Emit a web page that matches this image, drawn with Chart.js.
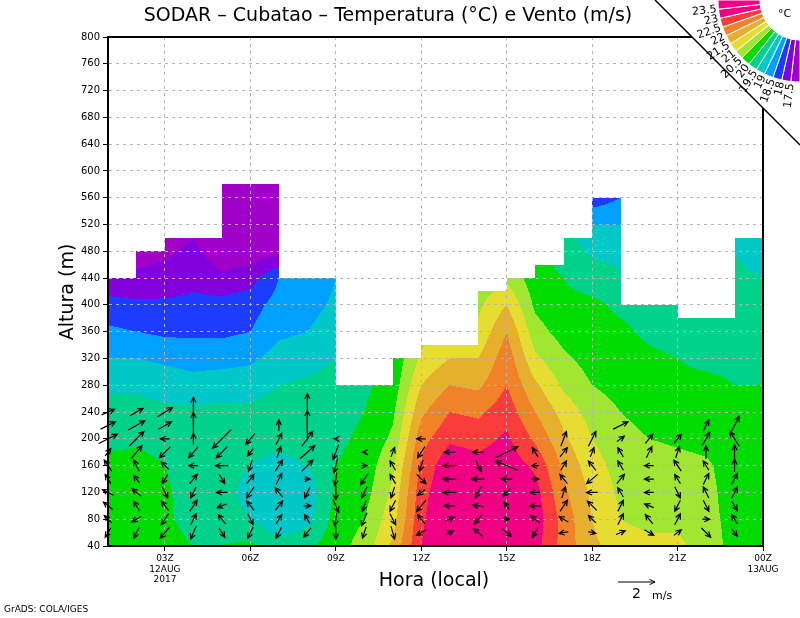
<!DOCTYPE html>
<html><head><meta charset="utf-8">
<script src="https://cdn.jsdelivr.net/npm/chart.js@4/dist/chart.umd.min.js"></script>
<style>html,body{margin:0;padding:0;background:#fff}#w{width:800px;height:618px}</style>
</head><body><div id="w"><canvas id="c" width="800" height="618"></canvas></div>
<script>
// hours (node positions) and heights (m)
const hours = [1,2,3,4,5,6,7,8,9,10,11,12,13,14,15,16,17,18,19,20,21,22,23,24];
const levels = [40,80,120,160,200,240,280,320,360,400,440,480,520,560,600];
// temperature (°C) per hour node, from bottom level upward
const temp = [
 [20.3,20.3,20.2,20.1,19.9,19.7,19.4,19.0,18.6,18.2,17.6,17.2,17.0,17.0,17.0],
 [20.4,20.3,20.3,20.2,19.9,19.7,19.4,19.0,18.5,18.1,17.6,17.3,17.2,17.2,17.2],
 [20.2,20.1,20.1,20.0,19.8,19.6,19.3,18.9,18.4,18.1,17.7,17.4,17.2,17.2,17.2],
 [20.0,19.8,19.7,19.7,19.7,19.6,19.2,18.8,18.4,18.1,17.9,17.6,17.4,17.3,17.3],
 [20.0,19.8,19.7,19.7,19.7,19.6,19.3,18.8,18.4,18.2,17.6,17.2,17.2,17.2,17.2],
 [20.1,19.5,19.3,19.5,19.7,19.6,19.3,18.9,18.5,18.3,17.8,17.2,17.2,17.2,17.2],
 [19.7,19.1,19.1,19.3,19.7,19.7,19.5,19.2,18.9,18.7,18.5,17.3,17.2,17.2,17.2],
 [19.9,19.3,19.2,19.5,19.8,19.8,19.6,19.3,19.0,18.8,18.6,18.4,18.4,18.4,18.4],
 [20.3,20.2,20.1,20.0,19.9,19.8,19.7,19.5,19.3,19.1,19.0,19.0,19.0,19.0,19.0],
 [20.7,20.5,20.3,20.2,20.1,20.0,19.9,19.8,19.7,19.6,19.5,19.5,19.5,19.5,19.5],
 [21.6,21.3,21.1,20.9,20.6,20.4,20.2,20.1,20.0,20.0,20.0,20.0,20.0,20.0,20.0],
 [23.0,22.9,22.8,22.6,22.3,21.9,21.5,21.1,20.8,20.6,20.5,20.5,20.5,20.5,20.5],
 [23.6,23.6,23.5,23.4,22.9,22.5,22.0,21.5,21.1,20.9,20.7,20.7,20.7,20.7,20.7],
 [23.5,23.4,23.3,23.2,22.8,22.4,21.9,21.5,21.1,20.9,20.6,20.6,20.6,20.6,20.6],
 [23.6,23.5,23.4,23.3,23.1,22.8,22.5,22.3,22.0,21.5,20.9,20.6,20.6,20.6,20.6],
 [23.2,23.3,23.2,22.9,22.4,22.0,21.6,21.1,20.7,20.4,20.2,20.1,20.1,20.1,20.1],
 [22.3,22.3,22.1,21.9,21.6,21.3,20.9,20.6,20.3,20.1,20.0,19.8,19.7,19.7,19.7],
 [21.6,21.5,21.4,21.2,21.0,20.8,20.5,20.3,20.2,20.1,19.8,19.4,19.0,18.2,18.2],
 [21.3,21.0,20.9,20.8,20.7,20.5,20.3,20.2,20.1,19.9,19.6,19.3,19.0,18.5,18.5],
 [21.2,20.8,20.8,20.8,20.5,20.3,20.2,20.1,19.9,19.8,19.7,19.6,19.6,19.6,19.6],
 [21.1,20.9,20.8,20.7,20.4,20.2,20.1,20.0,19.8,19.6,19.6,19.6,19.6,19.6,19.6],
 [20.8,20.7,20.7,20.6,20.3,20.2,20.1,19.9,19.7,19.6,19.6,19.6,19.6,19.6,19.6],
 [20.3,20.3,20.2,20.2,20.1,20.1,20.0,19.9,19.8,19.7,19.6,19.5,19.5,19.5,19.5],
 [20.3,20.3,20.2,20.2,20.1,20.1,20.0,19.9,19.8,19.7,19.5,19.3,19.3,19.3,19.3]
];
// top of valid data for each hour interval [h, h+1]
const dataTop = [440,480,500,500,580,580,440,440,280,280,320,340,340,420,440,460,500,560,400,400,380,380,500];
// contour levels and colours
const tLevels = [17.5,18,18.5,19,19.5,20,20.5,21,21.5,22,22.5,23,23.5];
const tColors = ['#a000c8','#8200dc','#1e3cff','#00a0ff','#00c8c8','#00d28c','#00dc00','#a0e632','#e6dc32','#e6af2d','#f08228','#fa3c3c','#f00082','#f00082'];
// wind vectors: rows at these heights, columns at hours 1..23
const windHours = [1,2,3,4,5,6,7,8,9,10,11,12,13,14,15,16,17,18,19,20,21,22,23];
const windLevels = [60,80,100,120,140,160,180,200,220,240];
const windU = [
 [-0.3,-0.3,-0.5,-0.3,0.3,-0.3,-0.3,-0.4,0.0,-0.2,0.2,-0.5,0.4,-0.5,0.5,-0.3,-0.5,0.4,0.5,0.5,0.4,0.5,0.3],
 [-0.4,-0.5,-0.4,0.3,-0.4,0.3,0.3,-0.3,-0.1,-0.3,0.3,-0.4,0.5,-0.4,0.3,-0.5,-0.5,-0.4,0.3,-0.4,0.3,0.4,-0.3],
 [-0.5,-0.3,-0.4,0.4,-0.5,-0.4,0.4,0.4,0.3,-0.2,-0.3,-0.5,-0.6,-0.6,-0.3,-0.6,0.4,-0.5,0.3,-0.5,-0.3,0.3,0.3],
 [-0.6,-0.5,0.3,-0.3,-0.6,-0.4,-0.4,-0.3,0.0,-0.3,-0.2,-0.4,-0.7,-0.3,-0.4,-0.5,0.2,-0.6,-0.3,-0.5,0.3,-0.3,0.3],
 [-0.3,-0.3,-0.3,0.4,0.3,0.4,0.3,0.3,-0.1,-0.4,-0.3,0.5,-0.7,-0.7,-0.6,0.4,-0.4,-0.6,0.4,-0.5,-0.3,0.3,0.3],
 [-0.4,-0.3,-0.4,-0.5,-0.7,-0.2,0.4,0.6,-0.2,0.3,-0.3,-0.2,-0.7,0.3,-1.2,-0.4,0.3,-0.4,-0.3,-0.5,-0.4,-0.3,0.0],
 [0.3,0.6,-0.6,-0.5,-0.6,-0.3,0.2,0.8,-0.3,-0.2,0.2,-0.4,-0.6,-0.6,1.2,-0.3,0.4,0.2,-0.3,0.3,0.2,0.0,0.0],
 [1.0,0.8,-0.5,0.0,-1.0,-0.5,0.3,0.6,-0.2,0.0,0.0,-0.5,0.0,0.0,0.0,0.0,0.3,0.4,0.4,0.4,0.4,0.4,-0.5],
 [0.8,0.9,0.7,0.0,0.0,0.0,0.0,0.0,0.0,0.0,0.0,0.0,0.0,0.0,0.0,0.0,0.0,0.0,0.8,0.0,0.0,0.3,0.5],
 [0.7,0.7,0.8,0.0,0.0,0.0,0.0,0.0,0.0,0.0,0.0,0.0,0.0,0.0,0.0,0.0,0.0,0.0,0.0,0.0,0.0,0.0,0.0]
];
const windV = [
 [-0.5,-0.6,-0.6,-0.7,-0.5,-0.6,-0.6,-0.5,-0.7,-0.6,-0.7,-0.3,0.2,0.4,-0.4,-0.5,-0.1,-0.1,0.2,-0.3,0.3,-0.5,-0.4],
 [0.4,-0.3,-0.6,0.6,0.5,-0.6,0.5,0.5,-0.7,-0.7,-0.6,0.5,0.2,-0.5,0.0,0.4,0.3,0.4,0.6,0.5,0.6,0.0,0.5],
 [0.4,0.5,0.5,0.6,-0.2,0.5,0.5,0.0,-0.7,-0.6,-0.6,-0.6,0.0,0.1,0.4,0.0,0.6,0.5,0.6,0.2,-0.6,-0.6,-0.5],
 [0.3,0.4,-0.6,-0.6,0.0,-0.6,0.5,-0.6,-0.8,-0.6,-0.6,-0.3,0.0,-0.6,-0.4,0.0,0.6,0.0,0.5,0.0,-0.6,0.6,0.6],
 [0.5,0.4,-0.5,0.5,-0.5,0.5,0.6,0.0,-0.7,-0.6,0.5,-0.5,0.0,0.0,0.0,0.0,0.5,-0.5,0.5,0.0,0.5,0.6,0.6],
 [0.6,0.6,0.4,0.0,0.0,-0.6,0.6,0.6,-0.8,0.0,0.5,-0.6,0.0,-0.6,0.5,0.0,0.5,0.5,0.5,0.0,0.6,0.5,0.7],
 [0.4,0.7,-0.6,-0.6,-0.6,-0.4,0.6,0.7,-0.8,0.0,0.5,-0.6,0.0,0.0,0.6,0.5,0.5,0.5,0.5,0.6,0.6,0.7,0.8],
 [0.5,0.8,0.0,0.6,-1.0,-0.6,0.6,0.8,0.0,0.0,0.0,0.0,0.0,0.0,0.0,0.0,0.8,0.8,0.3,0.5,0.5,0.7,0.8],
 [0.4,0.5,0.4,1.4,0.0,0.0,0.6,1.6,0.0,0.0,0.0,0.0,0.0,0.0,0.0,0.0,0.0,0.0,0.4,0.0,0.0,0.6,1.0],
 [0.3,0.4,0.5,1.6,0.0,0.0,0.0,2.0,0.0,0.0,0.0,0.0,0.0,0.0,0.0,0.0,0.0,0.0,0.0,0.0,0.0,0.0,0.0]
];
const xTickValues = [3,6,9,12,15,18,21,24];
const xTickLabels = [['03Z','12AUG','2017'],'06Z','09Z','12Z','15Z','18Z','21Z',['00Z','13AUG']];
const titleText = 'SODAR – Cubatao – Temperatura (°C) e Vento (m/s)';
const FONT = 'DejaVu Sans';

function tempAt(h, z){
  let ci = Math.min(Math.max(h - hours[0], 0), hours.length - 1.0001);
  let li = Math.min(Math.max((z - levels[0]) / 40, 0), levels.length - 1.0001);
  const c0 = Math.floor(ci), l0 = Math.floor(li), fc = ci - c0, fl = li - l0;
  const a = temp[c0][l0], b = temp[c0+1][l0], c = temp[c0][l0+1], d = temp[c0+1][l0+1];
  return (a*(1-fc)+b*fc)*(1-fl) + (c*(1-fc)+d*fc)*fl;
}
function colorFor(t){
  let i = 0; while (i < tLevels.length && t >= tLevels[i]) i++;
  return tColors[i];
}
function hexRgb(h){return [parseInt(h.substr(1,2),16),parseInt(h.substr(3,2),16),parseInt(h.substr(5,2),16)];}

const fieldPlugin = {
  id:'field',
  beforeDraw(chart){
    const {ctx, chartArea:a, scales:{x,y}} = chart;
    const w = Math.round(a.right - a.left), hgt = Math.round(a.bottom - a.top);
    const img = ctx.createImageData(w, hgt);
    for (let px = 0; px < w; px++){
      const hv = x.getValueForPixel(a.left + px + 0.5);
      const idx = Math.min(Math.max(Math.floor(hv) - 1, 0), dataTop.length - 1);
      const top = dataTop[idx];
      for (let py = 0; py < hgt; py++){
        const zv = y.getValueForPixel(a.top + py + 0.5);
        let rgb = [255,255,255];
        if (zv <= top) rgb = hexRgb(colorFor(tempAt(hv, zv)));
        const k = (py*w + px)*4;
        img.data[k]=rgb[0]; img.data[k+1]=rgb[1]; img.data[k+2]=rgb[2]; img.data[k+3]=255;
      }
    }
    ctx.putImageData(img, Math.round(a.left), Math.round(a.top));
  },
  afterDraw(chart){
    const {ctx, chartArea:a, scales:{x,y}} = chart;
    ctx.save();
    const pxPerMs = (x.getPixelForValue(2.3) - x.getPixelForValue(1)) / 2;
    ctx.strokeStyle = '#000'; ctx.lineWidth = 1.2;
    const arrow = (x0,y0,x1,y1)=>{
      const ang = Math.atan2(y1-y0, x1-x0), L = 6;
      ctx.beginPath(); ctx.moveTo(x0,y0); ctx.lineTo(x1,y1);
      ctx.moveTo(x1 - L*Math.cos(ang-0.45), y1 - L*Math.sin(ang-0.45)); ctx.lineTo(x1,y1);
      ctx.lineTo(x1 - L*Math.cos(ang+0.45), y1 - L*Math.sin(ang+0.45));
      ctx.stroke();
    };
    windLevels.forEach((z, r)=>{
      windHours.forEach((h, c)=>{
        const u = windU[r][c], v = windV[r][c];
        if (u===0 && v===0) return;
        const top = dataTop[Math.min(c, dataTop.length-1)];
        if (z > top) return;
        const cx = x.getPixelForValue(h), cy = y.getPixelForValue(z);
        const dx = u*pxPerMs, dy = -v*pxPerMs;
        arrow(cx-dx/2, cy-dy/2, cx+dx/2, cy+dy/2);
      });
    });
    ctx.lineWidth = 2; ctx.strokeRect(a.left, a.top, a.right-a.left, a.bottom-a.top);
    ctx.lineWidth = 1;
    arrow(618, 582, 618 + 2*pxPerMs, 582);
    ctx.fillStyle='#000'; ctx.font = '14px '+FONT; ctx.textAlign='left'; ctx.textBaseline='middle';
    ctx.fillText('2', 632, 594); ctx.font='11px '+FONT; ctx.fillText('m/s', 652, 596);
    ctx.textAlign='center'; ctx.font='19px '+FONT;
    ctx.fillText(titleText, 388, 16);
    ctx.font='19px '+FONT; ctx.fillText('Hora (local)', 434, 581);
    ctx.save(); ctx.translate(68, 292); ctx.rotate(-Math.PI/2); ctx.fillText('Altura (m)', 0, 0); ctx.restore();
    ctx.font='9px '+FONT; ctx.textAlign='left'; ctx.fillText('GrADS: COLA/IGES', 4, 610);
    // legend corner
    ctx.fillStyle='#fff'; ctx.beginPath(); ctx.moveTo(655,0); ctx.lineTo(800,0); ctx.lineTo(800,145); ctx.closePath(); ctx.fill();
    ctx.strokeStyle='#000'; ctx.lineWidth=1.5; ctx.beginPath(); ctx.moveTo(655,0); ctx.lineTo(800,145); ctx.stroke();
    const cxL = 800, cyL = 0, r0 = 40, r1 = 82, n = tColors.length;
    for (let i = 0; i < n; i++){
      const a0 = Math.PI/2 + (Math.PI/2)*i/n, a1 = Math.PI/2 + (Math.PI/2)*(i+1)/n;
      ctx.fillStyle = tColors[i];
      ctx.beginPath(); ctx.arc(cxL,cyL,r1,a0,a1); ctx.arc(cxL,cyL,r0,a1,a0,true); ctx.closePath(); ctx.fill();
      ctx.strokeStyle='#fff'; ctx.lineWidth=1; ctx.stroke();
    }
    ctx.fillStyle='#000'; ctx.font='11px '+FONT; ctx.textAlign='right'; ctx.textBaseline='middle';
    tLevels.forEach((t,i)=>{
      const ang = Math.PI/2 + (Math.PI/2)*(i+1)/n;
      ctx.save(); ctx.translate(cxL + (r1+2)*Math.cos(ang), cyL + (r1+2)*Math.sin(ang));
      ctx.rotate(ang - Math.PI); ctx.fillText(String(t), 0, 0); ctx.restore();
    });
    ctx.textAlign='left'; ctx.font='11px '+FONT; ctx.fillText('°C', 778, 14);
    ctx.restore();
  }
};

new Chart(document.getElementById('c'), {
  type:'scatter',
  data:{datasets:[{data:[], showLine:false}]},
  options:{
    responsive:false, animation:false, devicePixelRatio:1,
    layout:{padding:{top:37, right:37, left:0, bottom:0}},
    plugins:{legend:{display:false}, tooltip:{enabled:false}},
    scales:{
      x:{type:'linear', min:1, max:24,
        afterBuildTicks(s){ s.ticks = xTickValues.map(v=>({value:v})); },
        afterFit(s){ s.height = 72; },
        ticks:{color:'#000', font:{family:FONT, size:9}, padding:2, maxRotation:0, autoSkip:false,
          callback(v){ const i = xTickValues.indexOf(v); return i>=0 ? xTickLabels[i] : ''; }},
        grid:{color:'#b4b4b4', tickColor:'#000', tickLength:5, drawTicks:true},
        border:{color:'#000', width:2, dash:[3,4]}
      },
      y:{type:'linear', min:40, max:800,
        afterFit(s){ s.width = 108; },
        ticks:{stepSize:40, color:'#000', font:{family:FONT, size:10}, padding:3},
        grid:{color:'#b4b4b4', tickColor:'#000', tickLength:5},
        border:{color:'#000', width:2, dash:[3,4]}
      }
    }
  },
  plugins:[fieldPlugin]
});
</script></body></html>
